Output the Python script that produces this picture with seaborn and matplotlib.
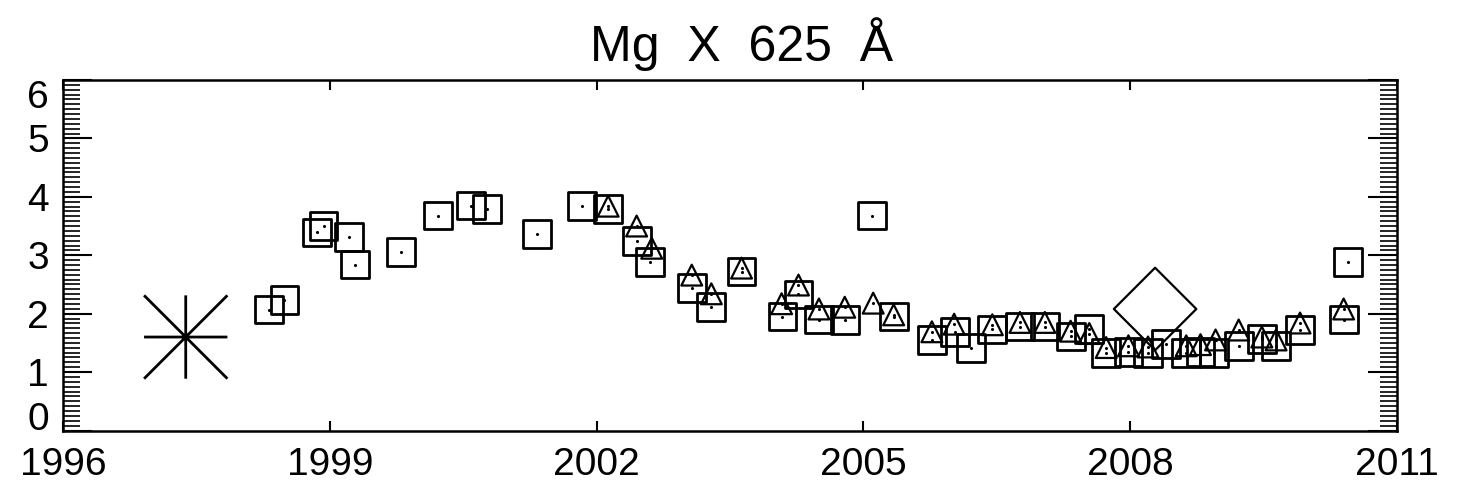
import matplotlib
matplotlib.use("Agg")
import matplotlib.pyplot as plt
import seaborn as sns
from matplotlib.ticker import MultipleLocator
from matplotlib.path import Path

title = "Mg  X  625  Å"
x_ticks = [1996, 1999, 2002, 2005, 2008, 2011]
y_ticks = [0, 1, 2, 3, 4, 5, 6]

sq_year = [1998.32, 1998.49, 1998.86, 1998.93, 1999.22, 1999.28, 1999.80, 2000.22,
           2000.59, 2000.77, 2001.33, 2001.84, 2002.13, 2002.45, 2002.60, 2003.07,
           2003.29, 2003.63, 2004.09, 2004.27, 2004.50, 2004.79, 2005.10, 2005.34,
           2005.77, 2006.03, 2006.21, 2006.45, 2006.76, 2007.04, 2007.33, 2007.54,
           2007.73, 2007.98, 2008.20, 2008.40, 2008.63, 2008.79, 2008.94, 2009.22,
           2009.48, 2009.64, 2009.91, 2010.40, 2010.45]
sq_val = [2.07, 2.23, 3.39, 3.50, 3.31, 2.84, 3.05, 3.68,
          3.85, 3.79, 3.36, 3.84, 3.79, 3.24, 2.89, 2.44,
          2.11, 2.72, 1.95, 2.33, 1.90, 1.89, 3.68, 1.95,
          1.55, 1.69, 1.41, 1.73, 1.78, 1.78, 1.61, 1.74,
          1.33, 1.35, 1.33, 1.48, 1.33, 1.35, 1.33, 1.45,
          1.56, 1.45, 1.72, 1.90, 2.89]

tri_year = [2002.13, 2002.45, 2002.62, 2003.07, 2003.29, 2003.63, 2004.08, 2004.27,
            2004.50, 2004.79, 2005.11, 2005.34, 2005.77, 2006.02, 2006.45, 2006.76,
            2007.04, 2007.33, 2007.54, 2007.73, 2007.98, 2008.20, 2008.63, 2008.79,
            2008.96, 2009.22, 2009.48, 2009.64, 2009.91, 2010.40]
tri_val = [3.84, 3.50, 3.12, 2.66, 2.34, 2.78, 2.17, 2.49,
           2.08, 2.11, 2.18, 1.98, 1.69, 1.82, 1.81, 1.85,
           1.85, 1.70, 1.66, 1.42, 1.45, 1.43, 1.45, 1.47,
           1.55, 1.72, 1.60, 1.55, 1.84, 2.08]

star_year = [1997.38]
star_val = [1.60]
dia_year = [2008.28]
dia_val = [2.08]

sns.set_theme(style="white")
plt.rcParams['font.family'] = ['Liberation Sans', 'DejaVu Sans']

# IDL-style asterisk: 8 arms ending on a square box
ast_path = Path(
    [(-1, 0), (1, 0), (0, -1), (0, 1), (-1, -1), (1, 1), (-1, 1), (1, -1)],
    [Path.MOVETO, Path.LINETO] * 4,
)

W, H = 1459, 497
fig = plt.figure(figsize=(W / 100, H / 100), dpi=100)
ax = fig.add_axes([63 / W, 1 - 430.5 / H, 1334 / W, 350.5 / H])

sns.scatterplot(x=sq_year, y=sq_val, marker='s', s=20 ** 2, color='black',
                facecolor='none', edgecolor='black', linewidth=2.0, ax=ax, zorder=3)
sns.scatterplot(x=tri_year, y=tri_val, marker='^', s=15 ** 2, color='black',
                facecolor='none', edgecolor='black', linewidth=1.6, ax=ax, zorder=3)
sns.scatterplot(x=sq_year + tri_year, y=sq_val + tri_val, marker='o', s=5,
                color='black', edgecolor='black', linewidth=0, ax=ax, zorder=4)
sns.scatterplot(x=star_year, y=star_val, marker=ast_path, s=60 ** 2,
                color='black', facecolor='none', edgecolor='black',
                linewidth=2.0, ax=ax, zorder=3)
sns.scatterplot(x=dia_year, y=dia_val, marker='D', s=42 ** 2, color='black',
                facecolor='none', edgecolor='black', linewidth=1.6, ax=ax, zorder=3)

ax.set_xlim(1996, 2011)
ax.set_ylim(0, 6)
ax.set_xticks(x_ticks)
ax.set_yticks(y_ticks)
ax.yaxis.set_minor_locator(MultipleLocator(1 / 12))

for sp in ax.spines.values():
    sp.set_color('black')
    sp.set_linewidth(1.8)

ax.tick_params(axis='both', which='both', direction='in', colors='black',
               labelcolor='black', top=True, right=True, bottom=True, left=True)
ax.tick_params(axis='x', which='major', length=7, width=1.5, labelsize=28, pad=12)
ax.tick_params(axis='x', which='minor', length=0, top=False, bottom=False)
ax.tick_params(axis='y', which='major', length=21, width=1.5, labelsize=28, pad=10)
ax.tick_params(axis='y', which='minor', length=12, width=1.2)

ylabels = ax.get_yticklabels()
ylabels[0].set_va('baseline')
ylabels[-1].set_va('top')

ax.set_title(title, fontsize=36, pad=14, color='black', x=0.509)

fig.savefig("out.png", dpi=100)
